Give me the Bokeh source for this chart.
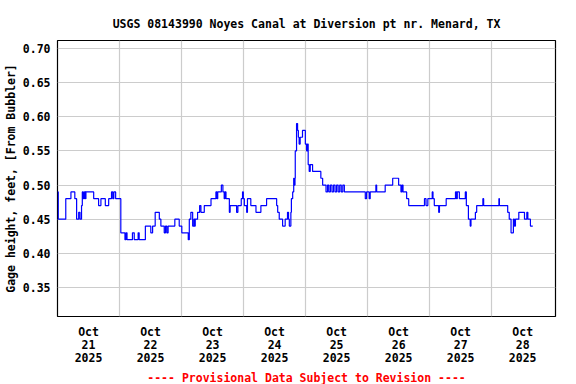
from bokeh.plotting import figure
from bokeh.models import FixedTicker, Title, Range1d, NumeralTickFormatter
from bokeh.embed import file_html
from bokeh.resources import INLINE

# Hours since Oct 21 2025 00:00 at which the gage height changes, and the new level (ft)
change_hours = [
    0.0, 0.3, 3.2, 5.2, 6.7, 7.4, 8.2, 8.7, 9.3, 9.6, 10.0, 10.4, 10.8, 11.0, 14.0, 15.9,
    16.8, 18.5, 19.8, 20.9, 21.4, 21.8, 22.5,
    24.5, 26.1, 26.5, 26.9, 29.0, 29.7, 31.2, 31.6, 34.0, 36.1, 36.8, 37.8, 39.4, 40.0,
    41.3, 41.8, 42.3, 42.8, 45.4, 47.1,
    48.1, 50.6, 51.0, 51.6, 52.3, 52.8, 53.1, 53.3, 54.2, 55.0, 55.5, 56.8, 59.4, 61.3,
    61.7, 62.0, 63.4, 64.0, 64.5, 64.8, 65.2, 66.5, 66.8, 69.3, 69.8, 71.1, 71.6, 71.9,
    72.3, 73.2, 73.5, 74.8, 76.8, 78.7, 80.9, 84.8, 85.2, 85.8, 87.1, 88.1, 89.0, 89.4,
    89.7, 90.3, 90.5, 91.0, 91.4, 91.6, 91.9, 92.0, 92.5, 92.9, 93.2, 93.5, 93.9, 94.8,
    95.9, 96.4, 96.7, 97.0, 97.4, 97.8, 98.7, 101.9, 102.6, 103.9, 104.5, 105.0, 105.6,
    106.2, 106.8, 107.4, 108.0, 108.6, 109.2, 109.8, 110.4, 111.0, 119.1, 119.6,
    120.6, 121.0, 123.2, 123.5, 126.8, 129.7, 132.0, 132.9, 133.3, 133.7, 135.1, 135.9,
    142.0, 142.6, 143.3,
    145.0, 145.3, 145.8, 147.5, 147.8, 150.4, 154.0, 154.4, 154.7, 155.5, 157.8, 158.2,
    159.0, 159.7, 160.0, 161.7, 162.2, 164.6, 164.9,
    170.8, 171.0, 174.2, 174.8, 175.5, 176.4, 176.8, 177.2, 178.5, 180.7, 181.6, 182.0,
    183.0, 183.9,
]
gage_ft = [
    0.49, 0.45, 0.48, 0.49, 0.48, 0.45, 0.46, 0.45, 0.47, 0.49, 0.48, 0.49, 0.48, 0.49, 0.48, 0.47,
    0.48, 0.47, 0.48, 0.49, 0.48, 0.49, 0.48,
    0.43, 0.42, 0.43, 0.42, 0.43, 0.42, 0.43, 0.42, 0.44, 0.43, 0.44, 0.46, 0.45, 0.44,
    0.43, 0.44, 0.43, 0.44, 0.45, 0.44,
    0.43, 0.42, 0.45, 0.46, 0.44, 0.45, 0.44, 0.45, 0.46, 0.47, 0.46, 0.47, 0.48, 0.49,
    0.48, 0.49, 0.50, 0.49, 0.48, 0.49, 0.48, 0.46, 0.47, 0.46, 0.47, 0.48, 0.49, 0.48,
    0.47, 0.46, 0.48, 0.47, 0.46, 0.47, 0.48, 0.47, 0.46, 0.45, 0.44, 0.45, 0.46, 0.45,
    0.44, 0.46, 0.48, 0.49, 0.51, 0.50, 0.51, 0.55, 0.59, 0.58, 0.57, 0.56, 0.57, 0.58,
    0.56, 0.55, 0.56, 0.53, 0.52, 0.53, 0.52, 0.51, 0.50, 0.49, 0.50, 0.49, 0.50,
    0.49, 0.50, 0.49, 0.50, 0.49, 0.50, 0.49, 0.50, 0.49, 0.48, 0.49,
    0.48, 0.49, 0.50, 0.49, 0.50, 0.51, 0.50, 0.49, 0.50, 0.49, 0.48, 0.47,
    0.48, 0.47, 0.48,
    0.49, 0.48, 0.47, 0.46, 0.47, 0.48, 0.49, 0.48, 0.49, 0.48, 0.49, 0.47,
    0.45, 0.44, 0.45, 0.46, 0.47, 0.48, 0.47,
    0.48, 0.47, 0.46, 0.45, 0.43, 0.45, 0.44, 0.45, 0.46, 0.45, 0.46, 0.45,
    0.44, 0.44,
]

x_tick_hours = [12, 36, 60, 84, 108, 132, 156, 180]
x_tick_labels = ["Oct\n21\n2025", "Oct\n22\n2025", "Oct\n23\n2025", "Oct\n24\n2025",
                 "Oct\n25\n2025", "Oct\n26\n2025", "Oct\n27\n2025", "Oct\n28\n2025"]
day_bounds = [24, 48, 72, 96, 120, 144, 168]
y_ticks = [0.35, 0.40, 0.45, 0.50, 0.55, 0.60, 0.65, 0.70]

FONT = "DejaVu Sans Mono"
FS = "11.5px"

p = figure(frame_width=498, frame_height=276, output_backend="svg", toolbar_location=None,
           x_range=Range1d(0, 192.7), y_range=Range1d(0.3075, 0.7117),
           min_border_left=50, min_border_right=12, min_border_top=40, min_border_bottom=0)
p.background_fill_color = "white"
p.border_fill_color = "white"
p.outline_line_color = "black"
p.outline_line_width = 1.2

p.title.text = "USGS 08143990 Noyes Canal at Diversion pt nr. Menard, TX"
p.title.text_font = FONT
p.title.text_font_size = FS
p.title.text_font_style = "bold"
p.title.text_color = "black"
p.title.align = "center"
p.title.standoff = 20

p.step(change_hours, gage_ft, mode="after", line_color="#0000ff", line_width=1.2)

# axes
p.xaxis.ticker = FixedTicker(ticks=x_tick_hours)
p.xaxis.major_label_overrides = dict(zip(x_tick_hours, x_tick_labels))
p.yaxis.ticker = FixedTicker(ticks=y_ticks)
p.yaxis.formatter = NumeralTickFormatter(format="0.00")
p.yaxis.axis_label = "Gage height, feet, [From Bubbler]"
for ax in (p.xaxis, p.yaxis):
    ax.axis_line_color = None
    ax.major_tick_in = 0
    ax.major_tick_out = 0
    ax.minor_tick_in = 0
    ax.minor_tick_out = 0
    ax.major_label_text_font = FONT
    ax.major_label_text_font_size = FS
    ax.major_label_text_font_style = "bold"
    ax.major_label_text_color = "black"
p.xaxis.major_label_standoff = 8
p.xaxis.major_label_text_line_height = 0.95
p.yaxis.major_label_standoff = 7
p.yaxis.axis_label_text_font = FONT
p.yaxis.axis_label_text_font_size = FS
p.yaxis.axis_label_text_font_style = "bold"
p.yaxis.axis_label_text_color = "black"
p.yaxis.axis_label_standoff = 2

p.xgrid.ticker = FixedTicker(ticks=day_bounds)
p.ygrid.ticker = FixedTicker(ticks=y_ticks)
p.grid.grid_line_color = "#cccccc"
p.grid.grid_line_width = 1.2

footer = Title(text="---- Provisional Data Subject to Revision ----", align="center",
               text_color="red", text_font=FONT, text_font_size=FS,
               text_font_style="bold", standoff=0)
p.add_layout(footer, "below")

open("out.html", "w").write(file_html(p, INLINE))
